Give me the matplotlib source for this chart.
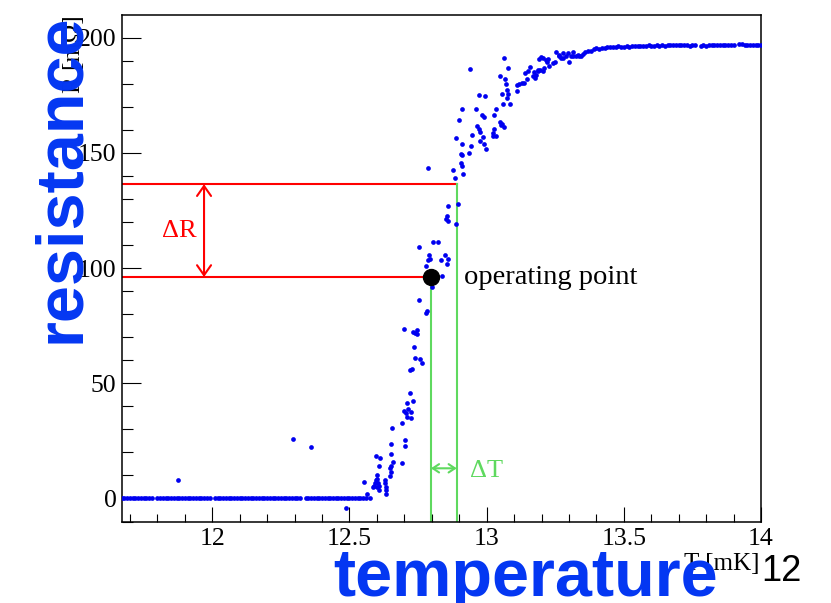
import matplotlib
matplotlib.use("Agg")
import matplotlib.pyplot as plt
from matplotlib.ticker import MultipleLocator

# superconducting transition: R [mOhm] vs T [mK]
base_t = [
    11.67, 11.68, 11.69, 11.70, 11.71, 11.72, 11.73, 11.74, 11.75, 11.76,
    11.77, 11.78, 11.80, 11.81, 11.82, 11.83, 11.84, 11.85, 11.86, 11.87,
    11.88, 11.89, 11.90, 11.91, 11.92, 11.93, 11.94, 11.95, 11.96, 11.97,
    11.98, 11.99, 12.01, 12.02, 12.03, 12.04, 12.05, 12.06, 12.07, 12.08,
    12.09, 12.10, 12.11, 12.12, 12.13, 12.14, 12.15, 12.16, 12.17, 12.18,
    12.19, 12.20, 12.21, 12.22, 12.23, 12.24, 12.25, 12.26, 12.27, 12.28,
    12.29, 12.30, 12.31, 12.32, 12.34, 12.35, 12.36, 12.37, 12.38, 12.39,
    12.40, 12.41, 12.42, 12.43, 12.44, 12.45, 12.46, 12.47, 12.48, 12.49,
    12.50, 12.51, 12.52, 12.53, 12.54, 12.55,
]
base_r = [0.0] * len(base_t)

trans_t = [
    11.875, 12.293, 12.359, 12.486, 12.553, 12.565, 12.560, 12.575, 12.589,
    12.587, 12.592, 12.598, 12.600, 12.599, 12.604, 12.596, 12.610, 12.609,
    12.608, 12.608, 12.602, 12.628, 12.628, 12.632, 12.632, 12.633, 12.647,
    12.653, 12.660, 12.650, 12.647, 12.650, 12.651, 12.655, 12.691, 12.703,
    12.703, 12.691, 12.697, 12.714, 12.706, 12.723, 12.711, 12.723, 12.711,
    12.733, 12.719, 12.721, 12.727, 12.738, 12.757, 12.763, 12.735, 12.699,
    12.733, 12.745, 12.748, 12.738, 12.754, 12.782, 12.779, 12.800, 12.781,
    12.779, 12.836, 12.833, 12.790, 12.792, 12.788, 12.848, 12.858, 12.854,
    12.754, 12.806, 12.823, 12.855, 12.852, 12.860, 12.890, 12.860, 12.894,
    12.788, 12.878, 12.885, 12.915, 12.909, 12.905, 12.906, 12.910, 12.934,
    12.943, 12.912, 12.887, 12.946, 12.898, 12.909, 12.960, 12.940, 12.971,
    12.995, 12.965, 12.973, 12.977, 12.988, 12.976, 12.989, 12.997, 12.983,
    12.991, 13.027, 13.035, 13.026, 13.022, 13.023, 13.033, 13.049, 13.052,
    13.064, 13.056, 13.059, 13.084, 13.056, 13.073, 13.077, 13.073, 13.072,
    13.067, 13.049, 13.064, 13.078, 13.110, 13.110, 13.119, 13.129, 13.137,
    13.147, 13.141, 13.150, 13.159, 13.168, 13.176, 13.186, 13.196, 13.206,
    13.210, 13.192, 13.198, 13.220, 13.225, 13.229, 13.241, 13.250, 13.254,
    13.263, 13.271, 13.279, 13.290, 13.296, 13.302, 13.308, 13.315, 13.326,
    13.338, 13.351, 13.172, 13.180, 13.189, 13.205, 13.217, 13.265, 13.278,
    13.314, 13.332, 13.345,
]
trans_r = [
    7.9, 25.7, 22.4, -4.3, 7.0, 2.0, 0.0, 0.1, 5.4,
    4.9, 6.6, 8.0, 10.1, 8.5, 6.9, 18.6, 17.7, 14.1,
    5.4, 3.7, 5.1, 8.0, 6.6, 5.1, 3.7, 1.8, 13.1,
    14.2, 16.0, 11.5, 9.6, 19.3, 23.5, 30.5, 15.3, 25.4,
    22.9, 32.6, 38.1, 39.0, 37.0, 37.4, 35.5, 34.8, 41.6,
    42.2, 45.9, 55.8, 56.1, 60.9, 60.5, 58.7, 65.6, 73.4,
    72.3, 73.1, 71.4, 71.7, 86.2, 81.5, 80.6, 91.7, 96.3,
    100.9, 96.7, 103.5, 105.7, 104.1, 103.5, 105.8, 103.9, 101.6,
    109.0, 111.5, 111.5, 122.6, 121.2, 120.6, 119.0, 127.1, 127.7,
    143.3, 142.7, 139.0, 140.8, 144.4, 145.6, 149.7, 149.0, 150.0,
    153.0, 154.0, 156.3, 157.8, 164.3, 168.8, 169.1, 186.5, 175.3,
    174.6, 161.7, 160.2, 159.1, 156.9, 155.0, 154.0, 151.7, 166.3,
    165.7, 166.3, 169.1, 160.5, 158.6, 157.3, 157.3, 163.3, 162.0,
    161.1, 162.5, 171.2, 171.2, 175.4, 174.0, 175.4, 177.3, 179.8,
    182.2, 183.5, 191.3, 187.0, 176.9, 179.6, 179.9, 180.2, 180.2,
    181.9, 184.8, 185.7, 187.4, 183.4, 182.4, 185.5, 186.0, 185.5,
    187.0, 190.6, 191.5, 189.6, 190.6, 187.7, 188.9, 189.6, 193.9,
    192.1, 191.1, 193.2, 191.8, 193.5, 189.6, 191.8, 193.7, 191.8,
    192.1, 192.9, 185.0, 183.8, 186.0, 191.1, 190.3, 192.5, 191.1,
    191.8, 192.5, 191.8,
]

plateau_t = [
    13.36, 13.37, 13.38, 13.39, 13.40, 13.41, 13.42, 13.43, 13.44, 13.45,
    13.46, 13.47, 13.48, 13.49, 13.50, 13.51, 13.52, 13.53, 13.54, 13.55,
    13.56, 13.57, 13.58, 13.59, 13.60, 13.61, 13.62, 13.63, 13.64, 13.65,
    13.66, 13.67, 13.68, 13.69, 13.70, 13.71, 13.72, 13.73, 13.74, 13.75,
    13.76, 13.78, 13.79, 13.80, 13.81, 13.82, 13.83, 13.84, 13.85, 13.86,
    13.87, 13.88, 13.89, 13.90, 13.92, 13.93, 13.94, 13.95, 13.96, 13.97,
    13.98, 13.99, 14.00,
]
plateau_r = [
    193.6, 194.3, 194.0, 194.9, 195.3, 195.0, 195.6, 195.4, 196.0, 195.7,
    196.1, 195.8, 196.2, 195.9, 196.0, 196.3, 196.1, 196.4, 196.2, 196.3,
    196.5, 196.3, 196.4, 196.6, 196.4, 196.5, 196.7, 196.5, 196.6, 196.5,
    196.8, 196.6, 196.9, 196.7, 196.6, 196.8, 196.6, 196.7, 196.5, 196.7,
    196.6, 196.5, 196.6, 196.5, 196.6, 196.7, 196.6, 196.6, 196.7, 196.6,
    196.8, 196.7, 196.6, 196.7, 197.1, 197.3, 196.9, 196.7, 196.6, 196.7,
    196.6, 196.7, 196.7,
]

# operating point and the step used for the sensitivity sketch
op_t, op_r = 12.797, 96.1
upper_t, upper_r = 12.891, 136.4
dr_arrow_t = 11.97
dt_arrow_r = 13.1

T_MIN, T_MAX = 11.671, 14.0
R_MIN, R_MAX = -10.2, 209.8

SERIF = "Liberation Serif"
SANS = "Liberation Sans"
BLUE = "#0000f0"
BIG_BLUE = "#0437f2"
RED = "#ff0000"
GREEN = "#5fd95f"
W, H = 831, 603


def draw_points(ax):
    """Measured points."""
    for t, r in ((base_t, base_r), (trans_t, trans_r), (plateau_t, plateau_r)):
        ax.plot(t, r, "o", ms=3.4, mew=0, color=BLUE, zorder=3)


def draw_sketch(ax):
    """Operating point with dR and dT construction."""
    ax.plot([T_MIN, upper_t], [upper_r, upper_r], color=RED, lw=1.5, zorder=2)
    ax.plot([T_MIN, op_t], [op_r, op_r], color=RED, lw=1.5, zorder=2)
    ax.plot([op_t, op_t], [R_MIN, op_r], color=GREEN, lw=1.5, zorder=2)
    ax.plot([upper_t, upper_t], [R_MIN, upper_r], color=GREEN, lw=1.5, zorder=2)
    ax.plot(op_t, op_r, "o", ms=11.5, color="black", zorder=4)

    ax.annotate("", xy=(dr_arrow_t, op_r), xytext=(dr_arrow_t, upper_r),
                arrowprops=dict(arrowstyle="<->,head_length=0.4,head_width=0.28",
                                color=RED, lw=1.5, mutation_scale=18,
                                shrinkA=0, shrinkB=0))
    ax.annotate("", xy=(op_t, dt_arrow_r), xytext=(upper_t, dt_arrow_r),
                arrowprops=dict(arrowstyle="<->,head_length=0.45,head_width=0.3",
                                color=GREEN, lw=1.5, mutation_scale=10,
                                shrinkA=0, shrinkB=0))

    ax.text(11.88, 116.0, "ΔR", color=RED, fontsize=19, family=SERIF,
            ha="center", va="center")
    ax.text(12.94, 11.9, "ΔT", color=GREEN, fontsize=19, family=SERIF,
            ha="left", va="center")
    ax.text(12.917, 95.7, "operating point", color="black", fontsize=20.5,
            family=SERIF, ha="left", va="center")


def style_axes(ax):
    """ROOT-like frame with inward ticks."""
    ax.set_xlim(T_MIN, T_MAX)
    ax.set_ylim(R_MIN, R_MAX)
    ax.xaxis.set_major_locator(MultipleLocator(0.5))
    ax.xaxis.set_minor_locator(MultipleLocator(0.1))
    ax.yaxis.set_major_locator(MultipleLocator(50))
    ax.yaxis.set_minor_locator(MultipleLocator(10))
    ax.xaxis.set_major_formatter(lambda v, _: f"{v:g}")
    for s in ax.spines.values():
        s.set_linewidth(1.1)
    ax.tick_params(which="both", direction="in", top=False, right=False,
                   width=0.8, labelsize=18.5)
    ax.tick_params(axis="x", which="major", length=10.6, pad=4)
    ax.tick_params(axis="x", which="minor", length=5.8)
    ax.tick_params(axis="y", which="major", length=13.7, pad=4)
    ax.tick_params(axis="y", which="minor", length=8)
    for lab in ax.get_xticklabels() + ax.get_yticklabels():
        lab.set_family(SERIF)


def main():
    """Build the figure and save it."""
    fig = plt.figure(figsize=(W / 100, H / 100), dpi=100)
    ax = fig.add_axes([122 / W, 1 - 522 / H, (761 - 122) / W, (522 - 15) / H])
    style_axes(ax)
    draw_points(ax)
    draw_sketch(ax)

    # axis titles in ROOT placement
    fig.text(760 / W, 1 - 570 / H, "T [mK]", family=SERIF, fontsize=18,
             ha="right", va="baseline")
    fig.text(80 / W, 1 - 15 / H, "R [mΩ]", family=SERIF, fontsize=18,
             rotation=90, rotation_mode="anchor", ha="right", va="baseline")

    # large slide labels on top
    fig.text(333 / W, 1 - 596 / H, "temperature", family=SANS,
             fontweight="bold", fontsize=48, color=BIG_BLUE,
             ha="left", va="baseline")
    fig.text(79 / W, 1 - 343 / H, "resistance", family=SANS,
             fontweight="bold", fontsize=48, color=BIG_BLUE, rotation=90,
             rotation_mode="anchor", ha="left", va="baseline")
    fig.text(761 / W, 1 - 581 / H, "12", family=SANS, fontsize=26,
             color="black", ha="left", va="baseline")

    fig.savefig("out.png", dpi=100)


if __name__ == "__main__":
    main()
